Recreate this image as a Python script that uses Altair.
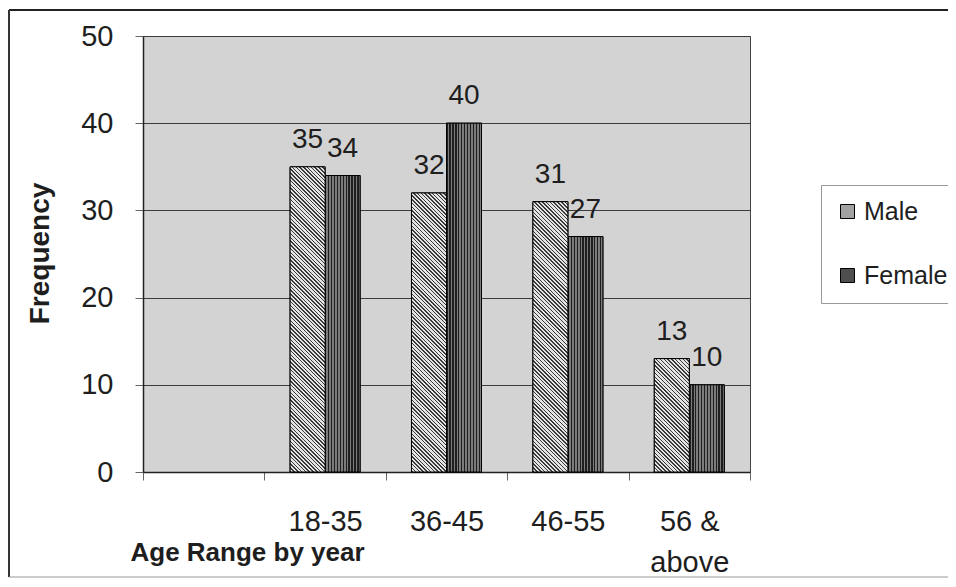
import altair as alt
import pandas as pd

# ---- data ----
age_ranges = ["18-35", "36-45", "46-55", "56 & above"]
x_domain = [" "] + age_ranges          # first (empty) category slot as in the original
male = [35, 32, 31, 13]
female = [34, 40, 27, 10]
series = ["Male", "Female"]
y_ticks = [0, 10, 20, 30, 40, 50]

rows = []
for a, m, f in zip(age_ranges, male, female):
    rows.append({"age": a, "sex": "Male", "freq": m})
    rows.append({"age": a, "sex": "Female", "freq": f})
df = pd.DataFrame(rows)

FONT = "Liberation Sans"
TXT = "#1e1e1e"
PLOT_W, PLOT_H, Y_MAX = 607, 436, 50
OUTER_PAD = 0.734

x_enc = alt.X(
    "age:N",
    sort=x_domain,
    scale=alt.Scale(domain=x_domain, paddingInner=0, paddingOuter=0),
    axis=alt.Axis(
        title="Age Range by year",
        labelFont=FONT, labelFontSize=29, labelColor=TXT, labelAngle=0,
        labelPadding=27, labelLineHeight=41,
        labelExpr="datum.label == '56 & above' ? ['56 &', 'above'] : datum.label",
        tickBand="extent", tickSize=8, tickColor="#666",
        domainColor="#222", domainWidth=1.5,
        titleFont=FONT, titleFontSize=26, titleFontWeight="bold", titleColor=TXT,
        titleX=-13, titleY=88, titleAlign="left", titleBaseline="alphabetic",
    ),
)
xoff_enc = alt.XOffset(
    "sex:N", sort=series,
    scale=alt.Scale(domain=series, paddingOuter=OUTER_PAD, paddingInner=0),
)
y_enc = alt.Y(
    "freq:Q",
    scale=alt.Scale(domain=[0, Y_MAX]),
    axis=alt.Axis(
        values=y_ticks, grid=True, gridColor="#3c3c3c", gridWidth=1,
        labelFont=FONT, labelFontSize=29, labelColor=TXT, labelPadding=22,
        tickSize=8, tickColor="#666", domainColor="#222", domainWidth=1.5,
        title="Frequency", titleFont=FONT, titleFontSize=28, titleFontWeight="bold",
        titleColor=TXT, titleX=-103, titleY=217, titleAngle=-90,
        titleAlign="center", titleBaseline="middle",
    ),
)

base = alt.Chart(df)

bars = base.mark_bar(stroke="black", strokeWidth=1).encode(
    x=x_enc, xOffset=xoff_enc, y=y_enc,
    color=alt.Color(
        "sex:N", sort=series,
        scale=alt.Scale(domain=series, range=["#a2a2a2", "#4e4e4e"]),
        legend=alt.Legend(
            title=None, orient="none", legendX=678, legendY=149,
            labelFont=FONT, labelFontSize=25, labelColor=TXT, labelOffset=4,
            symbolType="square", symbolSize=196, symbolStrokeColor="black",
            symbolStrokeWidth=1, rowPadding=38, padding=14,
            strokeColor="#999", fillColor="white",
        ),
    ),
)

# ---- textures (style only) ----
def stripes(n, dark, light, frac):
    st = []
    for i in range(n):
        st += [
            alt.GradientStop(offset=i / n, color=dark),
            alt.GradientStop(offset=(i + frac) / n, color=dark),
            alt.GradientStop(offset=(i + frac) / n, color=light),
            alt.GradientStop(offset=(i + 1) / n, color=light),
        ]
    return st

# vertical stripes for the Female bars
female_tex = base.transform_filter(alt.datum.sex == "Female").mark_bar(
    fill=alt.LinearGradient(gradient="linear", stops=stripes(12, "#1e1e1e", "#7c7c7c", 0.45),
                            x1=0, x2=1, y1=0, y2=0),
    stroke="black", strokeWidth=1,
).encode(x=x_enc, xOffset=xoff_enc, y=y_enc)

# diagonal "\\" hatch for the Male bars (gradient in bounding-box units, one per bar)
bar_w = (PLOT_W / len(x_domain)) / (2 + 2 * OUTER_PAD)
period = 3.8
male_tex = []
for a, m in zip(age_ranges, male):
    h = m * PLOT_H / Y_MAX
    w = bar_w
    k = w * (w + h) / (w * w + h * h)
    n = max(1, round((w + h) / period))
    grad = alt.LinearGradient(
        gradient="linear", stops=stripes(n, "#3a3a3a", "#e4e4e4", 0.4),
        x1=0, y1=1, x2=k, y2=1 - k * h / w,
    )
    male_tex.append(
        base.transform_filter((alt.datum.sex == "Male") & (alt.datum.age == a))
        .mark_bar(fill=grad, stroke="black", strokeWidth=1)
        .encode(x=x_enc, xOffset=xoff_enc, y=y_enc)
    )

labels = base.mark_text(
    dy=-19, baseline="alphabetic", font=FONT, fontSize=28, color=TXT
).encode(x=x_enc, xOffset=xoff_enc, y=y_enc, text="freq:Q")

# outer chart frame (left, top, bottom edges; the right edge lies off the picture)
one = alt.Chart(pd.DataFrame({"k": [0]}))
frame_top = one.mark_rule(color="#222", strokeWidth=2).encode(
    x=alt.value(-134), x2=alt.value(820), y=alt.value(-26))
frame_left = one.mark_rule(color="#333", strokeWidth=2).encode(
    x=alt.value(-134), y=alt.value(-26), y2=alt.value(541))
frame_bottom = one.mark_rule(color="#999", strokeWidth=1).encode(
    x=alt.value(-134), x2=alt.value(820), y=alt.value(541))

chart = (
    alt.layer(bars, female_tex, *male_tex, labels, frame_top, frame_left, frame_bottom)
    .properties(
        width=PLOT_W, height=PLOT_H,
        autosize=alt.AutoSizeParams(type="none"),
        padding={"left": 135, "top": 28, "right": 198, "bottom": 106},
        background="white",
    )
    .configure_view(fill="#d3d3d3", stroke="#444", strokeWidth=1)
)

chart.save("out.html", embed_options={"renderer": "svg", "actions": False})
